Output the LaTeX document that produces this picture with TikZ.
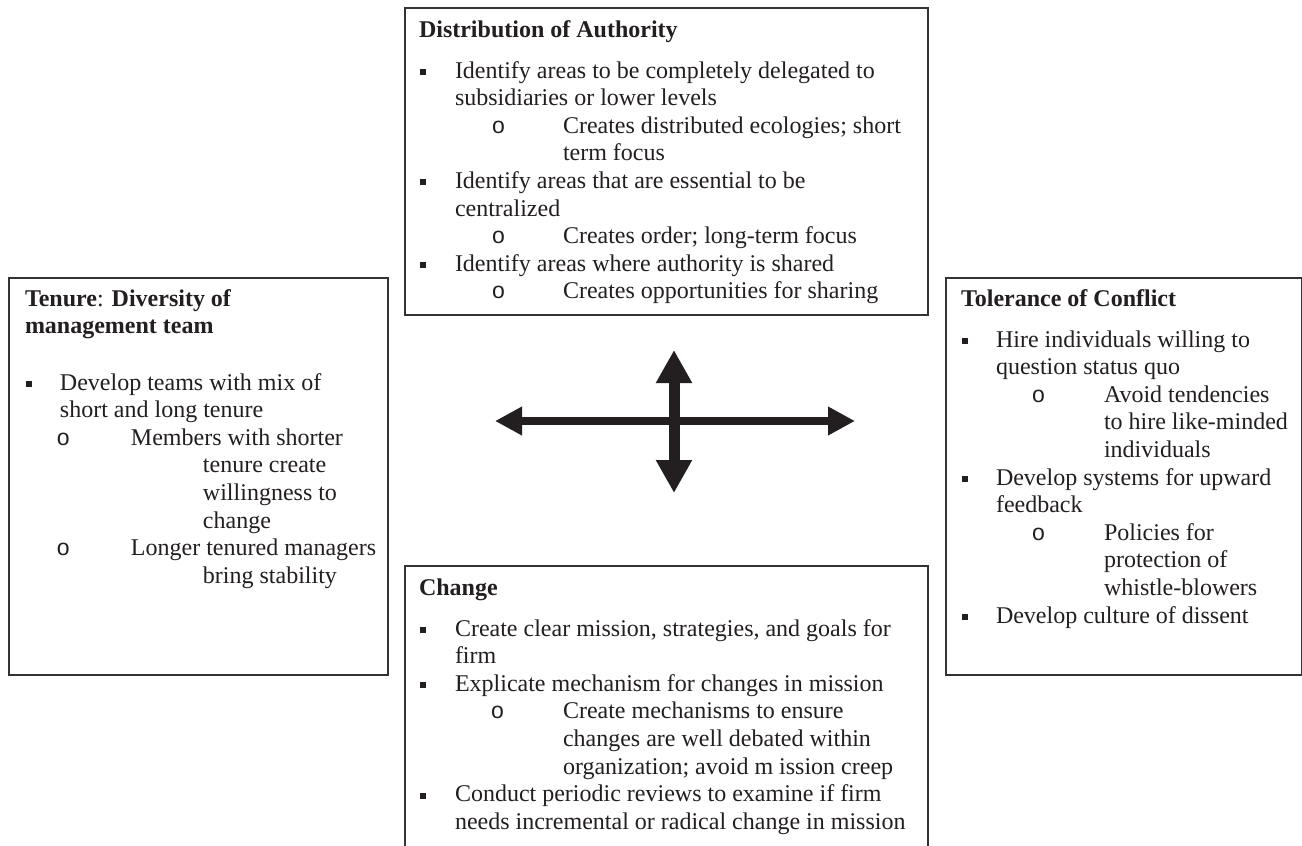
\documentclass[tikz,border=0pt]{standalone}
\usepackage{fontspec}
\setmainfont{Liberation Serif}
\newfontfamily\osans{Liberation Sans}
\usetikzlibrary{arrows.meta}
\definecolor{ink}{HTML}{231F20}
\newcommand\sqb{\rule[3pt]{6pt}{6pt}}
\newcommand\ob{{\osans\fontsize{23}{23}\selectfont o}}
\newcommand\Rw[4]{\node[txt] (#1) at (#2,#3) {#4};}
\newcommand\Bu[2]{\makebox[#1][l]{\hspace*{1pt}\sqb}#2}
\newcommand\Ob[3]{\makebox[#2][l]{\hspace*{#1}\ob}#3}
\newcommand\Ct[2]{\hspace*{#1}#2}
\tikzset{
  txt/.style={anchor=base west, inner sep=0pt, outer sep=0pt, text=ink, font=\fontsize{24}{27.6}\selectfont},
  panel/.style={draw=black!80, line width=1.6pt, rectangle, inner sep=0pt, anchor=north west, fill=none},
  harrow/.style={draw=ink, line width=7.5pt, {Triangle[length=27pt,width=27pt]}-{Triangle[length=27pt,width=27pt]}},
  varrow/.style={draw=ink, line width=11pt, {Triangle[length=33pt,width=34pt]}-{Triangle[length=33pt,width=34pt]}}
}
\begin{document}
\begin{tikzpicture}[x=1pt,y=-1pt]
\clip (0,0) rectangle (1302,846);
\fill[white] (0,0) rectangle (1302,846);

% panels
\node[panel, minimum width=523pt, minimum height=307pt] (topbox) at (404,7) {};
\node[panel, minimum width=379pt, minimum height=397pt] (leftbox) at (8,277) {};
\node[panel, minimum width=356pt, minimum height=397pt] (rightbox) at (945,277) {};
\node[panel, minimum width=523pt, minimum height=300pt] (botbox) at (404,565) {};

% top panel
\Rw{t0}{419}{37}{\textbf{Distribution of Authority}}
\Rw{t1}{419}{78}{\Bu{36pt}{Identify areas to be completely delegated to}}
\Rw{t2}{419}{105.6}{\Ct{36pt}{subsidiaries or lower levels}}
\Rw{t3}{419}{133.2}{\Ob{73pt}{144pt}{Creates distributed ecologies; short}}
\Rw{t4}{419}{160.8}{\Ct{144pt}{term focus}}
\Rw{t5}{419}{188.4}{\Bu{36pt}{Identify areas that are essential to be}}
\Rw{t6}{419}{216}{\Ct{36pt}{centralized}}
\Rw{t7}{419}{243.6}{\Ob{73pt}{144pt}{Creates order; long-term focus}}
\Rw{t8}{419}{271.2}{\Bu{36pt}{Identify areas where authority is shared}}
\Rw{t9}{419}{298.8}{\Ob{73pt}{144pt}{Creates opportunities for sharing}}

% left panel
\Rw{l0}{25}{306}{\textbf{Tenure}: \textbf{Diversity of}}
\Rw{l1}{25}{333.6}{\textbf{management team}}
\Rw{l2}{25}{390}{\Bu{35pt}{Develop teams with mix of}}
\Rw{l3}{25}{417.6}{\Ct{35pt}{short and long tenure}}
\Rw{l4}{25}{445.2}{\Ob{32pt}{106pt}{Members with shorter}}
\Rw{l5}{25}{472.8}{\Ct{178pt}{tenure create}}
\Rw{l6}{25}{500.4}{\Ct{178pt}{willingness to}}
\Rw{l7}{25}{528}{\Ct{178pt}{change}}
\Rw{l8}{25}{555.6}{\Ob{32pt}{106pt}{Longer tenured managers}}
\Rw{l9}{25}{583.2}{\Ct{178pt}{bring stability}}

% right panel
\Rw{r0}{961}{306}{\textbf{Tolerance of Conflict}}
\Rw{r1}{961}{347}{\Bu{35pt}{Hire individuals willing to}}
\Rw{r2}{961}{374.6}{\Ct{35pt}{question status quo}}
\Rw{r3}{961}{402.2}{\Ob{71pt}{143pt}{Avoid tendencies}}
\Rw{r4}{961}{429.8}{\Ct{143pt}{to hire like-minded}}
\Rw{r5}{961}{457.4}{\Ct{143pt}{individuals}}
\Rw{r6}{961}{485}{\Bu{35pt}{Develop systems for upward}}
\Rw{r7}{961}{512.6}{\Ct{35pt}{feedback}}
\Rw{r8}{961}{540.2}{\Ob{71pt}{143pt}{Policies for}}
\Rw{r9}{961}{567.8}{\Ct{143pt}{protection of}}
\Rw{r10}{961}{595.4}{\Ct{143pt}{whistle-blowers}}
\Rw{r11}{961}{623}{\Bu{35pt}{Develop culture of dissent}}

% bottom panel
\Rw{b0}{419}{595}{\textbf{Change}}
\Rw{b1}{419}{636}{\Bu{36pt}{Create clear mission, strategies, and goals for}}
\Rw{b2}{419}{663.6}{\Ct{36pt}{firm}}
\Rw{b3}{419}{691.2}{\Bu{36pt}{Explicate mechanism for changes in mission}}
\Rw{b4}{419}{718.8}{\Ob{72pt}{144pt}{Create mechanisms to ensure}}
\Rw{b5}{419}{746.4}{\Ct{144pt}{changes are well debated within}}
\Rw{b6}{419}{774}{\Ct{144pt}{organization; avoid m ission creep}}
\Rw{b7}{419}{801.6}{\Bu{36pt}{Conduct periodic reviews to examine if firm}}
\Rw{b8}{419}{829.2}{\Ct{36pt}{needs incremental or radical change in mission}}

% cross of arrows
\coordinate (hl) at (495,421);
\coordinate (hr) at (855,421);
\coordinate (vt) at (674,350);
\coordinate (vb) at (674,493);
\draw[harrow] (hl) -- (hr);
\draw[varrow] (vt) -- (vb);
\end{tikzpicture}
\end{document}
